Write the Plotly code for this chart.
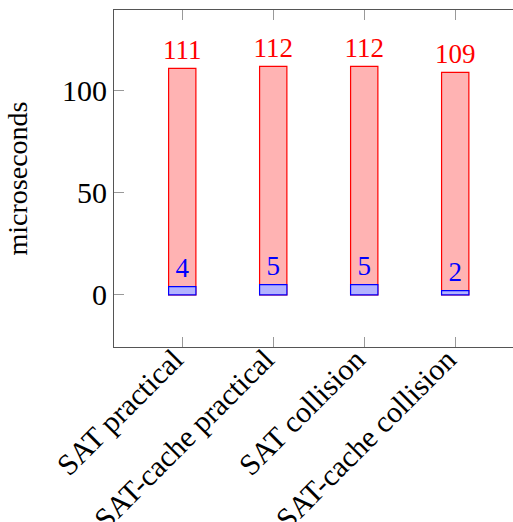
import plotly.graph_objects as go

categories = ["SAT practical", "SAT-cache practical", "SAT collision", "SAT-cache collision"]
total_us = [111, 112, 112, 109]
part_us = [4, 5, 5, 2]
y_ticks = [0, 50, 100]

FONT = "Liberation Serif"
FS = 30
LFS = 27

x = list(range(len(categories)))

fig = go.Figure()
fig.add_trace(go.Bar(
    x=x, y=total_us, width=0.3,
    marker=dict(color="rgb(255,179,179)", line=dict(color="rgb(255,0,0)", width=1.2)),
))
fig.add_trace(go.Bar(
    x=x, y=part_us, width=0.3,
    marker=dict(color="rgb(179,179,255)", line=dict(color="rgb(0,0,255)", width=1.2)),
))
fig.add_trace(go.Scatter(
    x=x, y=total_us, mode="markers+text", text=[str(v) for v in total_us],
    marker=dict(size=3, opacity=0),
    textposition="top center", cliponaxis=False,
    textfont=dict(color="rgb(255,0,0)", family=FONT, size=LFS),
))
fig.add_trace(go.Scatter(
    x=x, y=part_us, mode="markers+text", text=[str(v) for v in part_us],
    marker=dict(size=3, opacity=0),
    textposition="top center", cliponaxis=False,
    textfont=dict(color="rgb(0,0,255)", family=FONT, size=LFS),
))

fig.update_layout(
    width=513, height=522,
    margin=dict(l=114, r=0, t=10, b=175),
    barmode="overlay",
    showlegend=False,
    hovermode=False,
    plot_bgcolor="white", paper_bgcolor="white",
    font=dict(family=FONT, size=FS, color="black"),
)
fig.update_xaxes(
    range=[-0.75, 3.635], automargin=False,
    tickmode="array", tickvals=x, ticktext=categories,
    tickangle=-45,
    ticks="inside", ticklen=10, tickcolor="#999", tickwidth=1,
    showline=True, linecolor="#555", linewidth=1, mirror="allticks",
    showgrid=False, zeroline=False,
    ticklabelstandoff=-18, ticklabelshift=-8,
    tickfont=dict(family=FONT, size=FS),
)
fig.update_yaxes(
    range=[-25.6, 139.6], automargin=False,
    tickmode="array", tickvals=y_ticks,
    ticks="inside", ticklen=10, tickcolor="#999", tickwidth=1,
    showline=True, linecolor="#555", linewidth=1, mirror=False,
    showgrid=False, zeroline=False,
    ticklabelstandoff=0,
    title=dict(text="microseconds", standoff=26, font=dict(family=FONT, size=28)),
    tickfont=dict(family=FONT, size=FS),
)

fig.write_html(
    "out.html",
    config={"displayModeBar": False},
    post_script="document.body.style.margin='0';document.body.style.overflow='hidden';",
)
